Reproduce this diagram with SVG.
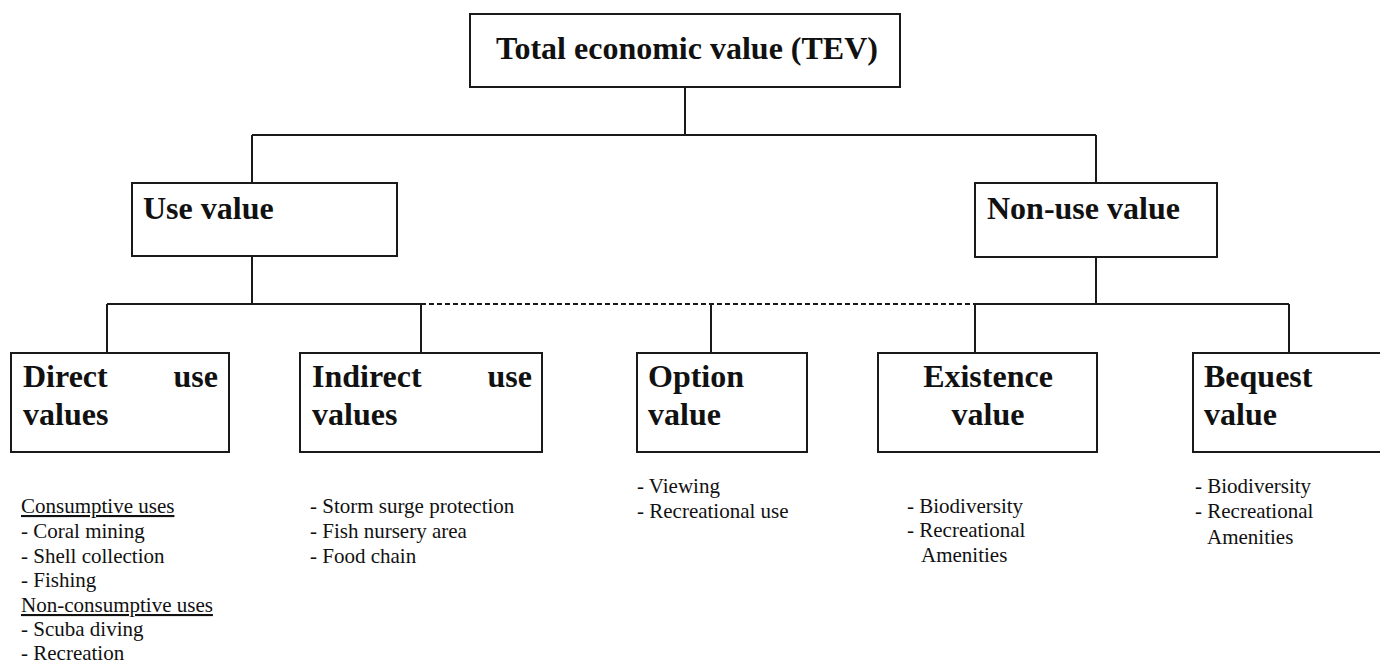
<svg xmlns="http://www.w3.org/2000/svg" width="1380" height="664" viewBox="0 0 1380 664">
<style>
.box{fill:#fff;stroke:#1a1a1a;stroke-width:2}
.ln{fill:none;stroke:#1a1a1a;stroke-width:2}
.dash{fill:none;stroke:#1a1a1a;stroke-width:2;stroke-dasharray:5,3}
.lbl{font-family:"Liberation Serif","Times New Roman",serif;font-weight:bold;font-size:32px;fill:#111}
.txt{font-family:"Liberation Serif","Times New Roman",serif;font-size:21px;fill:#111}
.u{text-decoration:underline}
</style>
<rect width="1380" height="664" fill="#fff"/>
<g id="connectors">
<path class="ln" d="M685 87V135M252 135H1096M252 135V183M1096 135V183M252 256V304M1096 256V304M107 304H421M975 304H1289M107 304V353M421 304V353M711 304V353M975 304V353M1289 304V353"/>
<path class="dash" d="M421 304H975"/>
</g>
<g id="tev">
<rect class="box" x="470" y="14" width="430" height="73"/>
<text class="lbl" x="687" y="59" text-anchor="middle">Total economic value (TEV)</text>
</g>
<g id="use-value">
<rect class="box" x="132" y="183" width="265" height="73"/>
<text class="lbl" x="143" y="219">Use value</text>
</g>
<g id="non-use-value">
<rect class="box" x="975" y="183" width="242" height="74"/>
<text class="lbl" x="987" y="219">Non-use value</text>
</g>
<g id="direct">
<rect class="box" x="11" y="353" width="218" height="99"/>
<text class="lbl" x="23" y="387">Direct</text>
<text class="lbl" x="218" y="387" text-anchor="end">use</text>
<text class="lbl" x="23" y="425">values</text>
<text class="txt" x="21" y="513"><tspan class="u">Consumptive uses</tspan></text>
<text class="txt" x="21" y="538">- Coral mining</text>
<text class="txt" x="21" y="563">- Shell collection</text>
<text class="txt" x="21" y="587">- Fishing</text>
<text class="txt" x="21" y="612"><tspan class="u">Non-consumptive uses</tspan></text>
<text class="txt" x="21" y="636">- Scuba diving</text>
<text class="txt" x="21" y="660">- Recreation</text>
</g>
<g id="indirect">
<rect class="box" x="300" y="353" width="242" height="99"/>
<text class="lbl" x="312" y="387">Indirect</text>
<text class="lbl" x="532" y="387" text-anchor="end">use</text>
<text class="lbl" x="312" y="425">values</text>
<text class="txt" x="310" y="513">- Storm surge protection</text>
<text class="txt" x="310" y="538">- Fish nursery area</text>
<text class="txt" x="310" y="563">- Food chain</text>
</g>
<g id="option">
<rect class="box" x="637" y="353" width="170" height="99"/>
<text class="lbl" x="648" y="387">Option</text>
<text class="lbl" x="648" y="425">value</text>
<text class="txt" x="637" y="493">- Viewing</text>
<text class="txt" x="637" y="518">- Recreational use</text>
</g>
<g id="existence">
<rect class="box" x="878" y="353" width="219" height="99"/>
<text class="lbl" x="988" y="387" text-anchor="middle">Existence</text>
<text class="lbl" x="988" y="425" text-anchor="middle">value</text>
<text class="txt" x="907" y="513">- Biodiversity</text>
<text class="txt" x="907" y="537">- Recreational</text>
<text class="txt" x="921" y="562">Amenities</text>
</g>
<g id="bequest">
<rect class="box" x="1193" y="353" width="200" height="99"/>
<text class="lbl" x="1204" y="387">Bequest</text>
<text class="lbl" x="1204" y="425">value</text>
<text class="txt" x="1195" y="493">- Biodiversity</text>
<text class="txt" x="1195" y="518">- Recreational</text>
<text class="txt" x="1207" y="544">Amenities</text>
</g>
</svg>
